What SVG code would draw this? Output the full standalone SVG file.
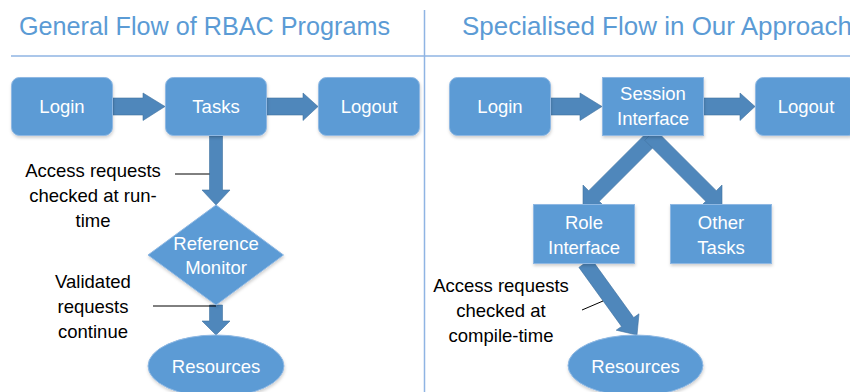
<svg xmlns="http://www.w3.org/2000/svg" width="850" height="392" viewBox="0 0 850 392">
<defs>
<filter id="sh" x="-10%" y="-10%" width="125%" height="130%">
<feDropShadow dx="0.5" dy="2" stdDeviation="1.5" flood-color="#000" flood-opacity="0.18"/>
</filter>
<style>
.node{fill:#5b9bd5;stroke:#8fb8e3;stroke-width:1;filter:url(#sh)}
.arr{fill:#4f87bb;stroke:#42729f;stroke-width:0.6}
.wt{font-family:"Liberation Sans",Arial,sans-serif;font-size:18.5px;fill:#ffffff;text-anchor:middle}
.bt{font-family:"Liberation Sans",Arial,sans-serif;font-size:18.5px;fill:#000000;text-anchor:middle}
.title{font-family:"Liberation Sans",Arial,sans-serif;font-size:25px;fill:#5b9bd5}
.lead{stroke:#000;stroke-width:1;fill:none}
.sep{stroke:#8fb4e3;stroke-width:1.5;fill:none}
</style>
</defs>
<rect width="850" height="392" fill="#ffffff"/>
<g id="frame">
<line class="sep" x1="11" y1="56" x2="850" y2="56"/>
<line class="sep" x1="424.5" y1="10" x2="424.5" y2="392" stroke="#a6c6ea"/>
<text class="title" x="19" y="35" textLength="371" lengthAdjust="spacingAndGlyphs">General Flow of RBAC Programs</text>
<text class="title" x="462" y="35" textLength="390" lengthAdjust="spacingAndGlyphs">Specialised Flow in Our Approach</text>
</g>
<g id="connectors">
<polygon class="arr" points="113,98 143,98 143,93 165,106.5 143,120.5 143,115 113,115"/>
<polygon class="arr" points="266,98 303,98 303,93 318,106.5 303,120.5 303,115 266,115"/>
<polygon class="arr" points="209.5,136 222.5,136 222.5,190 230,190 216,205 202,190 209.5,190"/>
<polygon class="arr" points="209.5,305 222.5,305 222.5,321 230,321 216,335 202,321 209.5,321"/>
<polygon class="arr" points="550,98 580,98 580,93 602,106.5 580,120.5 580,115 550,115"/>
<polygon class="arr" points="703,98 740,98 740,93 755,106.5 740,120.5 740,115 703,115"/>
<polygon class="arr" points="583,207 605,207 599.3,201.3 658.3,142.3 647.7,131.7 588.7,190.7 583,185"/>
<polygon class="arr" points="722,207 700,207 705.7,201.3 644.7,140.3 655.3,129.7 716.3,190.7 722,185"/>
<polygon class="arr" points="591.1,258.6 633.7,317.6 639,313.8 637,335 616.2,330.2 621.5,326.4 578.9,267.4"/>
</g>
<g id="login-left">
<rect class="node" x="11.5" y="77.5" width="101" height="58" rx="8"/>
<text class="wt" x="62" y="113">Login</text>
</g>
<g id="tasks-left">
<rect class="node" x="165.5" y="77.5" width="101" height="58" rx="8"/>
<text class="wt" x="216" y="113">Tasks</text>
</g>
<g id="logout-left">
<rect class="node" x="318.5" y="77.5" width="101" height="58" rx="8"/>
<text class="wt" x="369" y="113">Logout</text>
</g>
<g id="reference-monitor">
<polygon class="node" points="216,205 283.5,255 216,305 148,255"/>
<text class="wt" x="216" y="250">Reference</text>
<text class="wt" x="216" y="274">Monitor</text>
</g>
<g id="resources-left">
<ellipse class="node" cx="216" cy="366" rx="68" ry="31"/>
<text class="wt" x="216" y="373">Resources</text>
</g>
<g id="label-runtime">
<line class="lead" x1="175" y1="174" x2="209.5" y2="174"/>
<text class="bt" x="93" y="177">Access requests</text>
<text class="bt" x="93" y="202">checked at run-</text>
<text class="bt" x="93" y="227">time</text>
</g>
<g id="label-validated">
<line class="lead" x1="153" y1="306" x2="216" y2="306"/>
<text class="bt" x="93" y="288">Validated</text>
<text class="bt" x="93" y="313">requests</text>
<text class="bt" x="93" y="338">continue</text>
</g>
<g id="login-right">
<rect class="node" x="449.5" y="77.5" width="101" height="58" rx="8"/>
<text class="wt" x="500" y="113">Login</text>
</g>
<g id="session-interface">
<rect class="node" x="602.5" y="77.5" width="101" height="58"/>
<text class="wt" x="653" y="100">Session</text>
<text class="wt" x="653" y="125">Interface</text>
</g>
<g id="logout-right">
<rect class="node" x="755.5" y="77.5" width="101" height="58" rx="8"/>
<text class="wt" x="806" y="113">Logout</text>
</g>
<g id="role-interface">
<rect class="node" x="533.5" y="204.5" width="101" height="59"/>
<text class="wt" x="584" y="229">Role</text>
<text class="wt" x="584" y="254">Interface</text>
</g>
<g id="other-tasks">
<rect class="node" x="670.5" y="204.5" width="101" height="59"/>
<text class="wt" x="721" y="229">Other</text>
<text class="wt" x="721" y="254">Tasks</text>
</g>
<g id="resources-right">
<ellipse class="node" cx="635.5" cy="365.5" rx="67.5" ry="30.5"/>
<text class="wt" x="635.5" y="373">Resources</text>
</g>
<g id="label-compile">
<line class="lead" x1="582" y1="310" x2="603" y2="301"/>
<text class="bt" x="501" y="292">Access requests</text>
<text class="bt" x="501" y="317">checked at</text>
<text class="bt" x="501" y="342">compile-time</text>
</g>
</svg>
